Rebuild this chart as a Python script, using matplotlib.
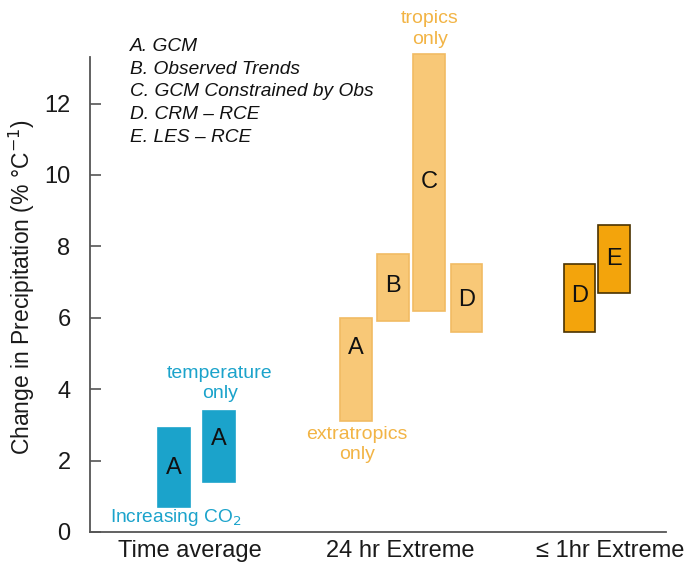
import matplotlib.pyplot as plt

plt.rcParams['font.family'] = ['Liberation Sans', 'DejaVu Sans']

# categories on the x axis
categories = ['Time average', '24 hr Extreme', '\u2264 1hr Extreme']

# each bar: category index, letter, low and high value (% per degC)
bar_cat = [0, 0, 1, 1, 1, 1, 2, 2]
bar_letter = ['A', 'A', 'A', 'B', 'C', 'D', 'D', 'E']
bar_low = [0.7, 1.4, 3.1, 5.9, 6.2, 5.6, 5.6, 6.7]
bar_high = [2.9, 3.4, 6.0, 7.8, 13.4, 7.5, 7.5, 8.6]
# where the letter sits inside each bar
letter_y = [1.8, 2.6, 5.15, 6.9, 9.8, 6.5, 6.6, 7.65]

legend_lines = ['A. GCM', 'B. Observed Trends', 'C. GCM Constrained by Obs',
                'D. CRM \u2013 RCE', 'E. LES \u2013 RCE']

# layout / style
offsets = [-0.076, 0.138, -0.21, -0.035, 0.14, 0.317, -0.145, 0.02]
width = 0.152
blue = '#1ba3cb'
light = '#f8c877'
dark = '#f3a40c'
face = [blue, blue, light, light, light, light, dark, dark]
edge = [blue, blue, '#f1bb63', '#f1bb63', '#f1bb63', '#f1bb63', '#4a3200', '#4a3200']
note_orange = '#f2b445'
txt = '#1a1a1a'

fig = plt.figure(figsize=(6.86, 5.64), dpi=100)
ax = fig.add_axes([90 / 686, 32 / 564, 576 / 686, 532 / 564])

for i in range(len(bar_cat)):
    x = bar_cat[i] + offsets[i]
    ax.bar(x, bar_high[i] - bar_low[i], width, bottom=bar_low[i],
           color=face[i], edgecolor=edge[i], linewidth=1.2)
    ax.text(x, letter_y[i], bar_letter[i], ha='center', va='center',
            fontsize=17, color='#111111')

ax.set_xlim(-0.476, 2.267)
ax.set_ylim(0, 14.9)
ax.spines['top'].set_visible(False)
ax.spines['right'].set_visible(False)
ax.spines['left'].set_bounds(0, 13.3)
for s in ['left', 'bottom']:
    ax.spines[s].set_color('#555555')
    ax.spines[s].set_linewidth(1.3)

ax.set_yticks(range(0, 13, 2))
ax.tick_params(axis='y', direction='in', length=8, width=1.2, color='#555555',
               labelsize=17, pad=14, labelcolor=txt)
ax.set_xticks(range(len(categories)))
ax.set_xticklabels(categories)
ax.tick_params(axis='x', length=0, labelsize=17, pad=6, labelcolor=txt)
ax.set_ylabel('Change in Precipitation (% \u00b0C$^{-1}$)', fontsize=16.5, color=txt)
ax.yaxis.set_label_coords(-0.092, 0.46)

# legend of sources
for k, line in enumerate(legend_lines):
    ax.text(-0.286, 13.6 - k * 0.635, line, style='italic', fontsize=13.8,
            ha='left', va='center', color='#111111')

# annotations
ax.text(0.143, 4.15, 'temperature\nonly', ha='center', va='center', fontsize=14,
        color=blue, linespacing=1.25)
ax.text(-0.067, 0.42, 'Increasing CO$_2$', ha='center', va='center', fontsize=13.8,
        color=blue)
ax.text(1.143, 14.09, 'tropics\nonly', ha='center', va='center', fontsize=14,
        color=note_orange, linespacing=1.25)
ax.text(0.795, 2.45, 'extratropics\nonly', ha='center', va='center', fontsize=14,
        color=note_orange, linespacing=1.25)

fig.savefig('out.png', dpi=100)
